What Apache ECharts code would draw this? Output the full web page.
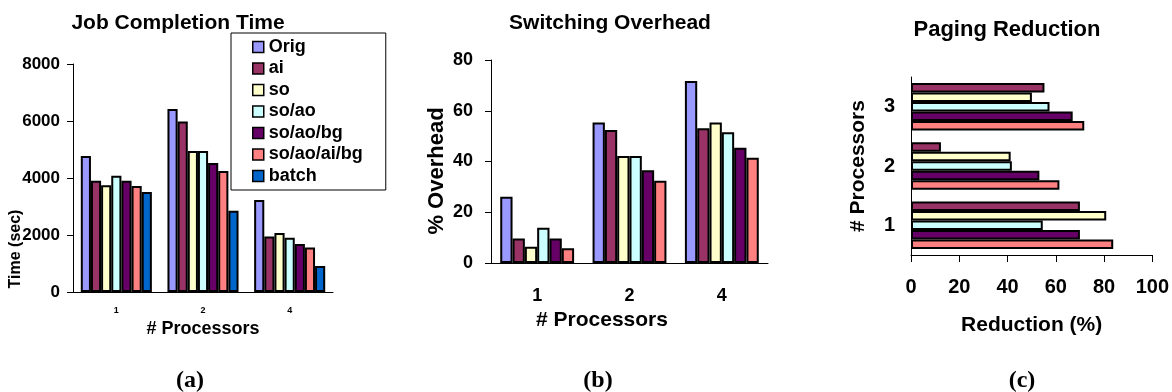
<!DOCTYPE html>
<html><head><meta charset="utf-8">
<script src="https://cdn.jsdelivr.net/npm/echarts@6/dist/echarts.min.js"></script>
<style>html,body{margin:0;padding:0;background:#fff}#c{width:1172px;height:392px}</style>
</head><body><div id="c"></div>
<script>
// ---------- data ----------
const seriesNames = ['Orig','ai','so','so/ao','so/ao/bg','so/ao/ai/bg','batch'];
const seriesColors = ['#9999ff','#993366','#ffffcc','#ccffff','#660066','#ff8080','#0066cc'];

// (a) Job Completion Time (sec), categories = # processors
const catsA = ['1','2','4'];
const jobOrig = [4770, 6420, 3230];
const jobAi = [3900, 5980, 1950];
const jobSo = [3750, 4950, 2070];
const jobSoAo = [4080, 4950, 1900];
const jobSoAoBg = [3900, 4530, 1680];
const jobSoAoAiBg = [3720, 4250, 1560];
const jobBatch = [3510, 2850, 910];
const ticksA = {min: 0, max: 8000, interval: 2000};

// (b) Switching Overhead (%)
const catsB = ['1','2','4'];
const ovOrig = [26.1, 55.4, 71.7];
const ovAi = [9.7, 52.4, 53.1];
const ovSo = [6.4, 42.2, 55.4];
const ovSoAo = [13.9, 42.2, 51.5];
const ovSoAoBg = [9.7, 36.6, 45.4];
const ovSoAoAiBg = [5.8, 32.4, 41.5];
const ticksB = {min: 0, max: 80, interval: 20};

// (c) Paging Reduction (%)
const catsC = ['1','2','3'];
const prAi = [70.0, 12.4, 55.3];
const prSo = [80.9, 41.3, 50.1];
const prSoAo = [54.6, 41.8, 57.4];
const prSoAoBg = [70.0, 53.2, 67.0];
const prSoAoAiBg = [83.8, 61.5, 71.8];
const ticksC = {min: 0, max: 100, interval: 20};

// ---------- chart ----------
const F = 'Arial, "Liberation Sans", sans-serif';
const SERIF = '"Times New Roman", "Liberation Serif", serif';
const colorOf = n => seriesColors[seriesNames.indexOf(n)];
const axLine = {lineStyle: {color: '#000', width: 1}};
const plain = v => String(v);

function bar(name, data, xi, yi, gap) {
  return {
    type: 'bar', name, data, xAxisIndex: xi, yAxisIndex: yi,
    barGap: '0%', barCategoryGap: gap,
    itemStyle: {color: colorOf(name), borderColor: '#000', borderWidth: 2},
    emphasis: {disabled: true}, animation: false
  };
}

const option = {
  animation: false,
  textStyle: {fontFamily: F},
  title: [
    {text: 'Job Completion Time', left: 173, top: 8, textAlign: 'center',
     textStyle: {fontFamily: F, fontSize: 21, fontWeight: 'bold', color: '#000'}},
    {text: 'Switching Overhead', left: 605, top: 8, textAlign: 'center',
     textStyle: {fontFamily: F, fontSize: 21, fontWeight: 'bold', color: '#000'}},
    {text: 'Paging Reduction', left: 1002, top: 14, textAlign: 'center',
     textStyle: {fontFamily: F, fontSize: 22, fontWeight: 'bold', color: '#000'}},
    {text: '(a)', left: 185, top: 364, textAlign: 'center',
     textStyle: {fontFamily: SERIF, fontSize: 24, fontWeight: 'bold', color: '#000'}},
    {text: '(b)', left: 593, top: 364, textAlign: 'center',
     textStyle: {fontFamily: SERIF, fontSize: 24, fontWeight: 'bold', color: '#000'}},
    {text: '(c)', left: 1017, top: 364, textAlign: 'center',
     textStyle: {fontFamily: SERIF, fontSize: 24, fontWeight: 'bold', color: '#000'}}
  ],
  legend: {
    data: seriesNames, orient: 'vertical', left: 231, top: 33,
    borderColor: '#000', borderWidth: 1, backgroundColor: '#fff',
    padding: [5, 23, 5, 21], itemWidth: 11, itemHeight: 11, itemGap: 3.5,
    icon: 'rect', selectedMode: false,
    itemStyle: {borderColor: '#000', borderWidth: 1.5},
    textStyle: {fontFamily: F, fontSize: 18, fontWeight: 'bold', color: '#000', lineHeight: 18, padding: [0,0,0,0]}
  },
  grid: [
    {left: 73, top: 64, width: 260, height: 228},
    {left: 491, top: 60, width: 277, height: 203},
    {left: 911, top: 77, width: 242, height: 178}
  ],
  xAxis: [
    {type: 'category', gridIndex: 0, data: catsA, axisLine: axLine,
     axisTick: {length: 4, lineStyle: {color: '#000'}},
     axisLabel: {fontFamily: F, fontSize: 9, fontWeight: 'bold', color: '#000', margin: 14},
     name: '# Processors', nameLocation: 'middle', nameGap: 22,
     nameTextStyle: {fontFamily: F, fontSize: 18, fontWeight: 'bold', color: '#000'}},
    {type: 'category', gridIndex: 1, data: catsB, axisLine: axLine,
     axisTick: {length: 7, lineStyle: {color: '#000'}},
     axisLabel: {fontFamily: F, fontSize: 18, fontWeight: 'bold', color: '#000', margin: 24}},
    {type: 'value', gridIndex: 2, min: ticksC.min, max: ticksC.max, interval: ticksC.interval,
     axisLine: {show: true, lineStyle: {color: '#000'}},
     axisTick: {show: true, length: 7, lineStyle: {color: '#000'}},
     splitLine: {show: false},
     axisLabel: {fontFamily: F, fontSize: 20, fontWeight: 'bold', color: '#000', margin: 22, formatter: plain},
     name: 'Reduction (%)', nameLocation: 'middle', nameGap: 60,
     nameTextStyle: {fontFamily: F, fontSize: 21, fontWeight: 'bold', color: '#000'}}
  ],
  yAxis: [
    {type: 'value', gridIndex: 0, min: ticksA.min, max: ticksA.max, interval: ticksA.interval,
     axisLine: {show: true, lineStyle: {color: '#000'}},
     axisTick: {show: true, length: 6, lineStyle: {color: '#000'}},
     splitLine: {show: false},
     axisLabel: {fontFamily: F, fontSize: 17, fontWeight: 'bold', color: '#000', margin: 13, formatter: plain}},
    {type: 'value', gridIndex: 1, min: ticksB.min, max: ticksB.max, interval: ticksB.interval,
     axisLine: {show: true, lineStyle: {color: '#000'}},
     axisTick: {show: true, length: 6, lineStyle: {color: '#000'}},
     splitLine: {show: false},
     axisLabel: {fontFamily: F, fontSize: 18, fontWeight: 'bold', color: '#000', margin: 18, formatter: plain}},
    {type: 'category', gridIndex: 2, data: catsC, axisLine: axLine,
     axisTick: {length: 6, lineStyle: {color: '#000'}},
     axisLabel: {fontFamily: F, fontSize: 20, fontWeight: 'bold', color: '#000', margin: 16},
     name: '# Processors', nameLocation: 'middle', nameGap: 42,
     nameTextStyle: {fontFamily: F, fontSize: 21, fontWeight: 'bold', color: '#000'}}
  ],
  graphic: [
    {type: 'text', x: 16, y: 249, rotation: Math.PI / 2,
     style: {text: 'Time (sec)', font: 'bold 16px ' + F, fill: '#000', align: 'center', verticalAlign: 'middle'}},
    {type: 'text', x: 437, y: 171, rotation: Math.PI / 2,
     style: {text: '% Overhead', font: 'bold 22px ' + F, fill: '#000', align: 'center', verticalAlign: 'middle'}},
    {type: 'text', x: 602, y: 320,
     style: {text: '# Processors', font: 'bold 21px ' + F, fill: '#000', align: 'center', verticalAlign: 'middle'}}
  ],
  series: [
    bar('Orig', jobOrig, 0, 0, '18%'),
    bar('ai', jobAi, 0, 0, '18%'),
    bar('so', jobSo, 0, 0, '18%'),
    bar('so/ao', jobSoAo, 0, 0, '18%'),
    bar('so/ao/bg', jobSoAoBg, 0, 0, '18%'),
    bar('so/ao/ai/bg', jobSoAoAiBg, 0, 0, '18%'),
    bar('batch', jobBatch, 0, 0, '18%'),

    bar('Orig', ovOrig, 1, 1, '20%'),
    bar('ai', ovAi, 1, 1, '20%'),
    bar('so', ovSo, 1, 1, '20%'),
    bar('so/ao', ovSoAo, 1, 1, '20%'),
    bar('so/ao/bg', ovSoAoBg, 1, 1, '20%'),
    bar('so/ao/ai/bg', ovSoAoAiBg, 1, 1, '20%'),

    bar('ai', prAi, 2, 2, '20%'),
    bar('so', prSo, 2, 2, '20%'),
    bar('so/ao', prSoAo, 2, 2, '20%'),
    bar('so/ao/bg', prSoAoBg, 2, 2, '20%'),
    bar('so/ao/ai/bg', prSoAoAiBg, 2, 2, '20%')
  ]
};
const chart = echarts.init(document.getElementById('c'), null, {renderer: 'canvas'});
chart.setOption(option);
</script></body></html>
